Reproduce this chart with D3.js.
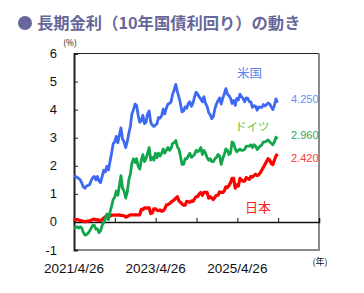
<!DOCTYPE html>
<html>
<head>
<meta charset="utf-8">
<script src="https://cdn.jsdelivr.net/npm/d3@7"></script>
<style>
  body { margin: 0; background: #fff; }
  svg { display: block; font-family: "Liberation Sans", Arial, sans-serif; }
  .jp { font-family: "Noto Sans CJK JP", sans-serif; }
</style>
</head>
<body>
<svg id="chart" width="364" height="293"></svg>
<script>
// biweekly readings from 2021/4/26
var startDate = new Date(2021, 3, 26)
var stepDays = 14

var usYield = [1.60, 1.62, 1.58, 1.55, 1.50, 1.38, 1.25, 1.20, 1.28, 1.30,
  1.33, 1.48, 1.58, 1.62, 1.50, 1.62, 1.45, 1.40, 1.62, 1.84,
  1.78, 1.98, 1.85, 2.15, 2.45, 2.78, 2.85, 3.05, 2.82, 3.10,
  3.35, 2.95, 2.85, 2.65, 2.85, 3.15, 3.40, 3.85, 4.00, 4.20,
  4.15, 3.80, 3.55, 3.60, 3.80, 3.50, 3.55, 3.85, 3.95, 3.55,
  3.45, 3.40, 3.45, 3.50, 3.72, 3.70, 3.78, 4.02, 3.85, 4.05,
  4.20, 4.22, 4.28, 4.55, 4.70, 4.90, 4.65, 4.45, 4.22, 3.92,
  3.95, 4.10, 4.05, 4.22, 4.28, 4.12, 4.23, 4.45, 4.62, 4.55,
  4.45, 4.38, 4.28, 4.46, 4.22, 4.12, 3.90, 3.82, 3.68, 3.75,
  4.03, 4.20, 4.32, 4.42, 4.20, 4.40, 4.56, 4.75, 4.55, 4.50,
  4.40, 4.22, 4.33, 4.15, 4.40, 4.35, 4.55, 4.46, 4.40, 4.28,
  4.42, 4.40, 4.28, 4.28, 4.08, 4.14, 4.12, 3.98, 4.10, 4.08,
  4.08, 4.18, 4.13, 4.18, 4.24, 4.20, 4.10, 4.00, 4.15, 4.38,
  4.25]

var deYield = [-0.22, -0.20, -0.17, -0.22, -0.17, -0.22, -0.38, -0.47, -0.45, -0.40,
  -0.32, -0.22, -0.12, -0.12, -0.26, -0.25, -0.38, -0.32, -0.12, -0.02,
  0.10, 0.28, 0.08, 0.35, 0.55, 0.80, 0.88, 1.10, 0.95, 1.30,
  1.65, 1.20, 1.10, 0.85, 1.05, 1.50, 1.70, 2.10, 2.25, 2.12,
  2.25, 1.98, 1.88, 2.20, 2.40, 2.15, 2.25, 2.45, 2.65, 2.20,
  2.30, 2.20, 2.45, 2.28, 2.45, 2.35, 2.45, 2.60, 2.45, 2.55,
  2.65, 2.55, 2.62, 2.80, 2.82, 2.90, 2.68, 2.60, 2.35, 2.05,
  2.05, 2.25, 2.25, 2.35, 2.45, 2.30, 2.35, 2.40, 2.55, 2.50,
  2.55, 2.65, 2.40, 2.55, 2.45, 2.30, 2.20, 2.25, 2.15, 2.15,
  2.25, 2.30, 2.40, 2.35, 2.05, 2.25, 2.40, 2.60, 2.55, 2.40,
  2.45, 2.85, 2.80, 2.60, 2.50, 2.55, 2.60, 2.55, 2.55, 2.58,
  2.70, 2.70, 2.70, 2.75, 2.65, 2.75, 2.70, 2.58, 2.65, 2.70,
  2.75, 2.85, 2.85, 2.88, 2.92, 2.85, 2.80, 2.75, 2.85, 3.02,
  2.96]

var jpYield = [0.08, 0.08, 0.08, 0.07, 0.05, 0.04, 0.02, 0.01, 0.02, 0.03,
  0.04, 0.06, 0.09, 0.10, 0.07, 0.08, 0.05, 0.06, 0.08, 0.14,
  0.18, 0.22, 0.18, 0.20, 0.24, 0.24, 0.24, 0.24, 0.24, 0.25,
  0.23, 0.23, 0.22, 0.17, 0.19, 0.23, 0.25, 0.25, 0.25, 0.25,
  0.25, 0.25, 0.25, 0.45, 0.44, 0.50, 0.49, 0.50, 0.50, 0.30,
  0.32, 0.47, 0.47, 0.42, 0.40, 0.43, 0.38, 0.40, 0.47, 0.60,
  0.62, 0.65, 0.70, 0.75, 0.78, 0.85, 0.90, 0.75, 0.70, 0.64,
  0.60, 0.60, 0.73, 0.72, 0.70, 0.75, 0.73, 0.82, 0.90, 0.90,
  1.00, 1.05, 0.95, 1.05, 1.05, 1.05, 0.85, 0.90, 0.85, 0.80,
  0.88, 0.95, 0.95, 1.07, 1.05, 1.05, 1.10, 1.25, 1.22, 1.30,
  1.40, 1.55, 1.55, 1.20, 1.32, 1.28, 1.55, 1.50, 1.45, 1.45,
  1.58, 1.55, 1.52, 1.62, 1.60, 1.65, 1.70, 1.65, 1.68, 1.75,
  1.85, 1.95, 2.05, 2.15, 2.25, 2.20, 2.08, 2.04, 2.20, 2.35,
  2.42]

var yTicks = [-1, 0, 1, 2, 3, 4, 5, 6]
var xTickLabels = ['2021/4/26', '2023/4/26', '2025/4/26']
var lastValues = ['4.250', '2.960', '2.420']
var seriesNames = ['米国', 'ドイツ', '日本']

var svg = d3.select('#chart')

// title
svg.append('circle').attr('cx', 25).attr('cy', 23).attr('r', 7).attr('fill', '#67679b')
svg.append('text').attr('class', 'jp')
  .attr('x', 37).attr('y', 29)
  .attr('font-size', 16.3).attr('font-weight', 'bold').attr('fill', '#67679b')
  .text('長期金利（10年国債利回り）の動き')

var x = d3.scaleTime()
  .domain([startDate, new Date(2027, 3, 26)])
  .range([74, 319])
var y = d3.scaleLinear()
  .domain([-1, 6])
  .range([250, 53.5])

// frame
svg.append('line').attr('x1', 74).attr('x2', 319).attr('y1', y(6)).attr('y2', y(6))
  .attr('stroke', '#222').attr('stroke-width', 1)
svg.append('line').attr('x1', 319).attr('x2', 319).attr('y1', y(6)).attr('y2', y(-1))
  .attr('stroke', '#8a8a8a').attr('stroke-width', 2)
svg.append('line').attr('x1', 74).attr('x2', 320).attr('y1', y(-1)).attr('y2', y(-1))
  .attr('stroke', '#8a8a8a').attr('stroke-width', 2)

// y axis
var yAxis = svg.append('g')
  .attr('transform', 'translate(74,0)')
  .call(d3.axisRight(y).tickValues(yTicks).tickSize(4).tickFormat(''))
yAxis.select('.domain').attr('stroke', '#222').attr('stroke-width', 2)
yAxis.selectAll('.tick line').attr('stroke', '#222')

svg.selectAll('.ylab')
  .data(yTicks)
  .enter().append('text')
  .attr('class', 'ylab')
  .attr('x', 57).attr('y', d => y(d) + 4.5)
  .attr('text-anchor', 'end')
  .attr('font-size', 13).attr('fill', '#111')
  .text(d => d)

svg.append('text').attr('class', 'jp')
  .attr('x', 70).attr('y', 46).attr('text-anchor', 'middle')
  .attr('font-size', 8.5).attr('fill', '#111').text('(%)')

// zero line with year ticks
var yearTicks = d3.range(1, 6).map(k => new Date(2021 + k, 3, 26))
var zeroAxis = svg.append('g')
  .attr('transform', 'translate(0,' + y(0) + ')')
  .call(d3.axisTop(x).tickValues(yearTicks).tickSize(4).tickFormat(''))
zeroAxis.select('.domain').attr('stroke', '#111').attr('stroke-width', 1.5)
zeroAxis.selectAll('.tick line').attr('stroke', '#111')

svg.selectAll('.xlab')
  .data(xTickLabels)
  .enter().append('text')
  .attr('class', 'xlab')
  .attr('x', d => x(d3.timeParse('%Y/%m/%d')(d)))
  .attr('y', 273)
  .attr('text-anchor', 'middle')
  .attr('font-size', 13.5).attr('fill', '#111')
  .text(d => d)

svg.append('text').attr('class', 'jp')
  .attr('x', 320).attr('y', 265).attr('text-anchor', 'middle')
  .attr('font-size', 9).attr('fill', '#111').text('(年)')

// lines
var line = d3.line()
  .x((d, i) => x(d3.timeDay.offset(startDate, i * stepDays)))
  .y(d => y(d))

var series = [
  {data: jpYield, color: '#ff0000', width: 3.2},
  {data: deYield, color: '#12a64c', width: 2.8},
  {data: usYield, color: '#3d68f2', width: 2.8}
]
series.forEach(function(s) {
  svg.append('path')
    .datum(s.data)
    .attr('d', line)
    .attr('fill', 'none')
    .attr('stroke', s.color)
    .attr('stroke-width', s.width)
    .attr('stroke-linejoin', 'round')
})

// series labels
svg.append('text').attr('class', 'jp').attr('x', 237).attr('y', 78)
  .attr('font-size', 12.5).attr('fill', '#5b7ff2').text(seriesNames[0])
svg.append('text').attr('class', 'jp').attr('x', 235).attr('y', 131)
  .attr('font-size', 11.5).attr('fill', '#6bbf3a').text(seriesNames[1])
svg.append('text').attr('class', 'jp').attr('x', 245).attr('y', 212)
  .attr('font-size', 13).attr('fill', '#ff2020').text(seriesNames[2])

var labelColors = ['#6b8ef5', '#2aa85a', '#ff3535']
var labelYs = [103, 139, 162]
lastValues.forEach(function(v, i) {
  svg.append('text')
    .attr('x', 291).attr('y', labelYs[i])
    .attr('font-size', 11).attr('fill', labelColors[i])
    .text(v)
})
</script>
</body>
</html>
